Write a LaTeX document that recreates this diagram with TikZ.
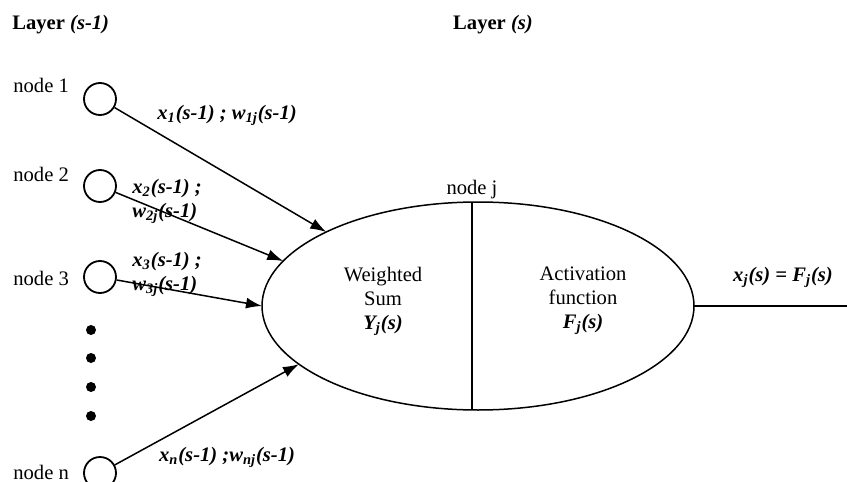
\documentclass[tikz,border=0pt]{standalone}
\usepackage{fontspec}
\setmainfont{Liberation Serif}
\usepackage{tikz}
\usetikzlibrary{arrows.meta,
	positioning,
	shapes.geometric}

\newcommand{\bivar}[1]{\textbf{\textit{#1}}}
\newcommand{\sub}[1]{\textsubscript{#1}}

\tikzset{
	lbl/.style={inner sep=0pt, font=\fontsize{10.3pt}{12pt}\selectfont},
	unit/.style={circle, draw, line width=0.9pt, minimum size=16pt, inner sep=0pt},
	dotnode/.style={circle, fill, minimum size=5pt, inner sep=0pt},
	link/.style={-{Latex[length=8pt,width=5.5pt]}, line width=0.75pt}
}

\begin{document}
\begin{tikzpicture}[x=0.5pt, y=-0.5pt]
        \useasboundingbox (0,0) rectangle (847,482);

        \node[lbl, anchor=west] (laya) at(12,25) {\textbf{Layer \textit{(s-1)}}};
        \node[lbl] (layb) at(493,25) {\textbf{Layer \textit{(s)}}};

        % inputs of layer s-1
        \node[lbl, anchor=west] (t1) at(13,85) {node 1};
        \node[lbl, anchor=west] (t2) at(13,174) {node 2};
        \node[lbl, anchor=west] (t3) at(13,278) {node 3};
        \node[lbl, anchor=west] (tn) at(13,472) {node n};
        \node[unit] (n1) at(100,99) {};
        \node[unit] (n2) at(100,186) {};
        \node[unit] (n3) at(100,277) {};
        \node[unit] (nn) at(100,473) {};
        \node[dotnode] (d1) at(91,330) {};
        \node[dotnode] (d2) at(91,358) {};
        \node[dotnode] (d3) at(91,387) {};
        \node[dotnode] (d4) at(91,416) {};

        % node j
        \node[ellipse, draw, line width=0.75pt, minimum width=216pt, minimum height=104pt,
              inner sep=0pt, outer sep=0pt] (ell) at(478,306) {};
        \coordinate (div) at(472,306);
        \draw[line width=0.75pt] (div |- ell.north) -- (div |- ell.south);
        \node[lbl, anchor=south] (tj) at(472,199) {node j};
        \node[lbl, align=center] (ws) at(383,301) {Weighted\\Sum\\\bivar{Y\sub{j}(s)}};
        \node[lbl, align=center] (af) at(583,301) {Activation\\function\\\bivar{F\sub{j}(s)}};

        \draw[link] (n1) -- (ell.154);
        \draw[link] (n2) -- (ell.167);
        \draw[link] (n3) -- (ell.180);
        \draw[link] (nn) -- (ell.198);
        \node[lbl] (w1) at(227,115) {\bivar{x\sub{1}(s-1) ; w\sub{1j}(s-1)}};
        \node[lbl, anchor=west, align=left] (w2) at(132,201) {\bivar{x\sub{2}(s-1) ;}\\\bivar{w\sub{2j}(s-1)}};
        \node[lbl, anchor=west, align=left] (w3) at(132,274) {\bivar{x\sub{3}(s-1) ;}\\\bivar{w\sub{3j}(s-1)}};
        \node[lbl] (wn) at(227,457) {\bivar{x\sub{n}(s-1) ;w\sub{nj}(s-1)}};

        % output
        \coordinate (out) at(847,306);
        \draw[line width=0.75pt] (ell.east) -- (out);
        \node[lbl] (xo) at(783,277) {\bivar{x\sub{j}(s) = F\sub{j}(s)}};

    \end{tikzpicture}
\end{document}
